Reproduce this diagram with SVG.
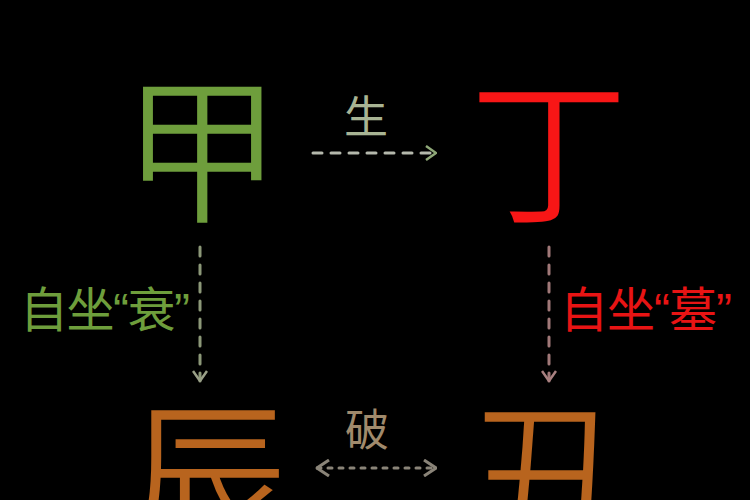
<svg xmlns="http://www.w3.org/2000/svg" width="750" height="500" viewBox="0 0 750 500">
<defs>
<style>
.big{font-family:"Noto Sans CJK SC","Noto Sans CJK TC",sans-serif;font-size:161px;text-anchor:middle;stroke:#000;stroke-width:2.5px;paint-order:fill}
.lbl{font-family:"Liberation Sans","Noto Sans CJK SC",sans-serif;font-size:48px}
.conn{fill:none;stroke-width:3;stroke-linecap:round}
</style>
<marker id="chevG" viewBox="0 0 12 16" refX="11" refY="8" markerWidth="12" markerHeight="16" markerUnits="userSpaceOnUse" orient="auto">
<path d="M1,1 L11,8 L1,15" fill="none" stroke="#8fa878" stroke-width="2.5"/>
</marker>
<marker id="chevL" viewBox="0 0 12 16" refX="11" refY="8" markerWidth="12" markerHeight="16" markerUnits="userSpaceOnUse" orient="auto">
<path d="M1,1 L11,8 L1,15" fill="none" stroke="#9aa088" stroke-width="2.5"/>
</marker>
<marker id="chevR" viewBox="0 0 12 16" refX="11" refY="8" markerWidth="12" markerHeight="16" markerUnits="userSpaceOnUse" orient="auto">
<path d="M1,1 L11,8 L1,15" fill="none" stroke="#a88080" stroke-width="2.5"/>
</marker>
<marker id="chevB" viewBox="0 0 14 18" refX="13" refY="9" markerWidth="14" markerHeight="18" markerUnits="userSpaceOnUse" orient="auto-start-reverse">
<path d="M1,1 L13,9 L1,17" fill="none" stroke="#8a8478" stroke-width="3"/>
</marker>
</defs>
<rect width="750" height="500" fill="#000"/>
<g id="jia"><text class="big" x="202" y="211" fill="#6e9e3c">甲</text></g>
<g id="ding"><text class="big" x="549" y="212" fill="#f81616">丁</text></g>
<g id="chen"><text class="big" x="208" y="537" fill="#b8641e">辰</text></g>
<g id="chou"><text class="big" x="546" y="537" fill="#b8641e">丑</text></g>
<g id="labels">
<text x="366" y="133" font-family="Noto Sans CJK SC,sans-serif" font-size="44" text-anchor="middle" fill="#a8b494">生</text>
<text x="367" y="446" font-family="Noto Sans CJK SC,sans-serif" font-size="44" text-anchor="middle" fill="#a08a6c">破</text>
<text class="lbl" x="20" y="327" fill="#6e9e3c" letter-spacing="-1.5">自坐“衰”</text>
<text class="lbl" x="560" y="327" fill="#e81414" letter-spacing="-1">自坐“墓”</text>
</g>
<g id="connectors">
<path class="conn" d="M313,153 H436" stroke="#b4b8ac" stroke-dasharray="9,9" marker-end="url(#chevG)"/>
<path class="conn" d="M200,247 V381" stroke="#8c9878" stroke-dasharray="9,9" marker-end="url(#chevL)"/>
<path class="conn" d="M549,247 V381" stroke="#a07878" stroke-dasharray="9,9" marker-end="url(#chevR)"/>
<path class="conn" d="M317,468 H436" stroke="#8a8478" stroke-dasharray="4,7" marker-start="url(#chevB)" marker-end="url(#chevB)"/>
</g>
</svg>
